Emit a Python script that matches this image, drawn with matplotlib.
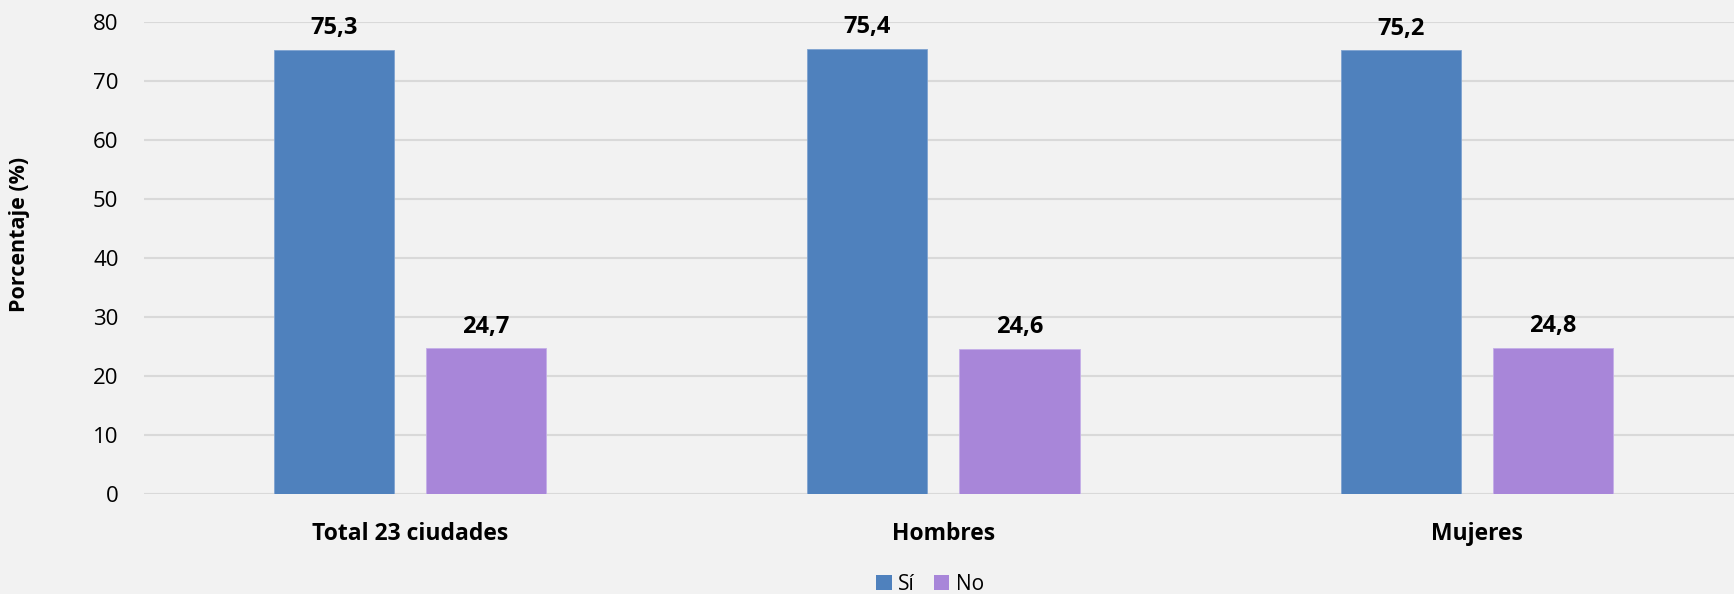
import numpy as np
import matplotlib.pyplot as plt
from matplotlib.patches import Patch

categories = ["Total 23 ciudades", "Hombres", "Mujeres"]
si_values = [75.3, 75.4, 75.2]
no_values = [24.7, 24.6, 24.8]
series_names = ["Sí", "No"]

plt.rcParams['font.family'] = ['Open Sans', 'DejaVu Sans']

bg = '#F2F2F2'
blue = '#4F81BD'
purple = '#A886D9'

fig = plt.figure(figsize=(17.34, 5.94), dpi=100, facecolor=bg)
# plot area: y=80 at 22px, y=0 at 494px from top
ax = fig.add_axes([143.5 / 1734, 100 / 594, 1600 / 1734, 472 / 594])
ax.set_facecolor(bg)

x = np.arange(len(categories))
width = 0.225
offset = 0.1425
b1 = ax.bar(x - offset, si_values, width, color=blue, edgecolor='#7FA3D0', linewidth=0.6, zorder=3)
b2 = ax.bar(x + offset, no_values, width, color=purple, edgecolor='#C4AEE8', linewidth=0.6, zorder=3)

for bars, vals in [(b1, si_values), (b2, no_values)]:
    for rect, v in zip(bars, vals):
        ax.annotate(f"{v:.1f}".replace('.', ','),
                    (rect.get_x() + rect.get_width() / 2, v),
                    xytext=(0, 7), textcoords='offset points',
                    ha='center', va='bottom', fontsize=17, fontweight='bold')

ax.set_xlim(-0.5, 2.5)
ax.set_ylim(0, 80)
ax.set_yticks(range(0, 81, 10))
ax.yaxis.grid(True, color='#D9D9D9', linewidth=1.5, zorder=0)
ax.set_axisbelow(True)
for s in ax.spines.values():
    s.set_visible(False)
ax.tick_params(axis='y', length=0, pad=18, labelsize=16)
ax.tick_params(axis='x', length=0, pad=20, labelsize=16.5)
ax.set_xticks(x)
ax.set_xticklabels(categories, fontweight='bold')

# y label placed in figure coords, like the original
fig.text(20 / 1734, 1 - 234 / 594, "Porcentaje (%)", rotation=90,
         ha='center', va='center', fontsize=15.5, fontweight='bold')

handles = [Patch(facecolor=blue), Patch(facecolor=purple)]
fig.legend(handles, series_names, loc='center', bbox_to_anchor=(930 / 1734, 10 / 594),
           ncol=2, frameon=False, fontsize=15, handlelength=0.75, handleheight=0.75,
           handletextpad=0.3, columnspacing=0.9)

fig.savefig("out.png", dpi=100, facecolor=bg)
